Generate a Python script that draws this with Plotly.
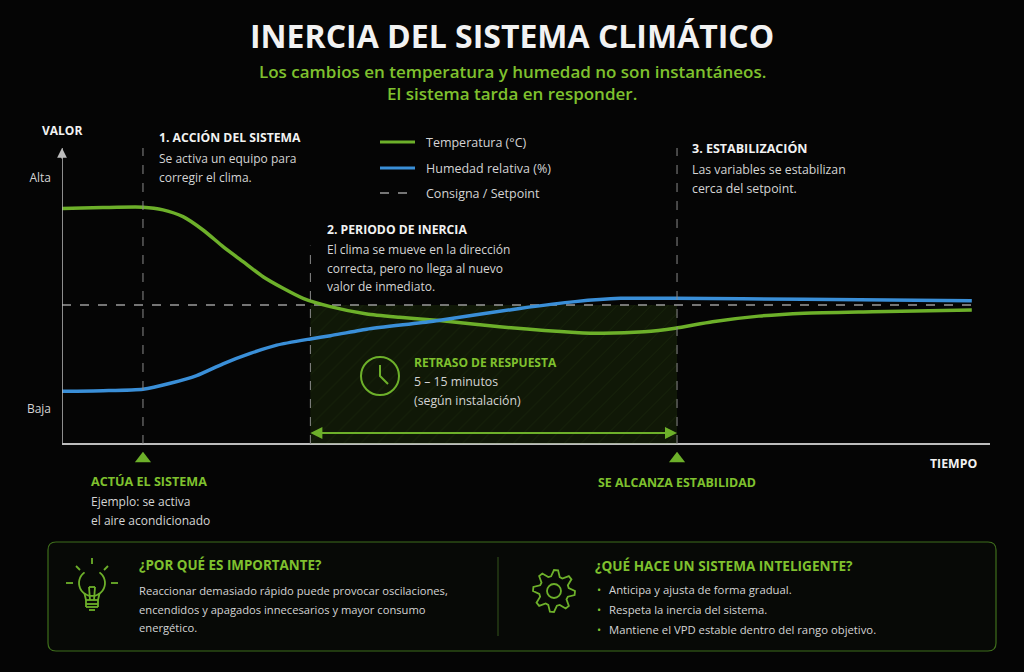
import numpy as np
import plotly.graph_objects as go

W, H = 1024, 672

# curves (time 0-100, value 0-10)
t_temp = [0, 4.5, 8.9, 11.1, 13.3, 15.5, 17.7, 19.9, 22.1, 24.3, 26.5, 29.5, 33.5, 37.1,
          41.5, 48.1, 56.4, 59.5, 64.0, 67.4, 71.5, 76.6, 81.6, 89.1, 100]
temperatura = [7.96, 7.99, 8.0, 7.91, 7.68, 7.23, 6.67, 6.16, 5.65, 5.26, 4.92, 4.64, 4.39, 4.28,
               4.17, 3.96, 3.77, 3.74, 3.79, 3.91, 4.13, 4.32, 4.42, 4.47, 4.53]

t_hum = [0, 4.5, 8.9, 11.9, 14.8, 17.7, 20.7, 23.6, 27.3, 29.5, 33.5, 40.8, 50.3, 56.4, 61.4,
         67.4, 81.6, 100]
humedad = [1.78, 1.80, 1.85, 2.05, 2.31, 2.71, 3.06, 3.34, 3.55, 3.66, 3.88, 4.15, 4.58, 4.81, 4.92,
           4.92, 4.89, 4.84]

setpoint = 4.70
t_setpoint = [0, 100]

# phase markers on the time axis
t_accion = 8.9
t_inercia = 27.3
t_estable = 67.6

y_ticks = [1.18, 9.0]
y_labels = ["Baja", "Alta"]

GREEN = "#6db02a"
GREEN_TXT = "#7fc12e"
BLUE = "#3a8fd8"
GREY = "#9a9a9a"
WHITE = "#f2f2f2"
BODY = "#d4d4d4"
AXIS = "#bdbdbd"
FONT = "Open Sans"

def X(px):
    return px / W

def Y(py):
    return 1 - py / H

fig = go.Figure()

# hatched delay region
fig.add_trace(go.Scatter(
    x=[t_inercia, t_estable, t_estable, t_inercia, t_inercia],
    y=[0, 0, setpoint, setpoint, 0],
    fill="toself", mode="lines", line=dict(width=0),
    fillcolor="rgba(70,120,20,0.18)",
    fillpattern=dict(shape="/", fgcolor="rgba(120,180,50,0.14)",
                     bgcolor="rgba(70,120,20,0.17)", size=12, solidity=0.08),
    hoverinfo="skip", showlegend=False))

fig.add_trace(go.Scatter(x=t_setpoint, y=[setpoint, setpoint], mode="lines",
                         line=dict(color=GREY, width=1.5, dash="dash"),
                         name="Consigna / Setpoint", showlegend=False))
fig.add_trace(go.Scatter(x=t_temp, y=temperatura, mode="lines",
                         line=dict(color=GREEN, width=3.5, shape="spline", smoothing=0.6),
                         name="Temperatura (°C)", showlegend=False))
fig.add_trace(go.Scatter(x=t_hum, y=humedad, mode="lines",
                         line=dict(color=BLUE, width=3.5, shape="spline", smoothing=0.6),
                         name="Humedad relativa (%)", showlegend=False))

# triangles under the axis
fig.add_trace(go.Scatter(x=[t_accion, t_estable], y=[-0.5, -0.5], mode="markers",
                         marker=dict(symbol="triangle-up", size=14, color=GREEN),
                         showlegend=False, hoverinfo="skip"))

shapes = []
# value axis line
shapes.append(dict(type="line", xref="x", yref="y", x0=0, x1=0, y0=0, y1=10,
                   line=dict(color=AXIS, width=1.5)))
# vertical dashed phase lines
for tx, top in [(t_accion, 10.5), (t_inercia, 6.7), (t_estable, 10.4)]:
    shapes.append(dict(type="line", xref="x", yref="y", x0=tx, x1=tx, y0=0, y1=top,
                       line=dict(color="#8a8a8a", width=1, dash="dash")))

# double arrow for the delay
shapes.append(dict(type="line", xref="x", yref="y", x0=t_inercia + 0.5, x1=t_estable - 0.5,
                   y0=0.37, y1=0.37, line=dict(color=GREEN, width=2)))

annotations = []
for tip, tail in [(t_inercia, t_inercia + 3), (t_estable, t_estable - 3)]:
    annotations.append(dict(x=tip, y=0.37, ax=tail, ay=0.37, xref="x", yref="y",
                            axref="x", ayref="y", text="", showarrow=True,
                            arrowhead=2, arrowsize=1.2, arrowwidth=2, arrowcolor=GREEN))

# axis arrow heads
annotations.append(dict(x=102.3, y=0, ax=-12, ay=0, xref="x", yref="y", text="",
                        showarrow=True, arrowhead=2, arrowsize=1.3, arrowwidth=1.5,
                        arrowcolor=AXIS))
annotations.append(dict(x=0, y=10.0, ax=0, ay=12, xref="x", yref="y", text="",
                        showarrow=True, arrowhead=2, arrowsize=1.3, arrowwidth=1.5,
                        arrowcolor=AXIS))


def txt(px, py, s, size=12, color=BODY, weight="normal", anchor="left"):
    annotations.append(dict(x=X(px), y=Y(py), xref="paper", yref="paper", text=s,
                            showarrow=False, xanchor=anchor, yanchor="middle",
                            font=dict(family=FONT, size=size, color=color, weight=weight)))


# title
txt(512, 35, "INERCIA DEL SISTEMA CLIMÁTICO", 32, WHITE, "bold", "center")
txt(512, 72, "Los cambios en temperatura y humedad no son instantáneos.", 17, GREEN_TXT, 600, "center")
txt(512, 94, "El sistema tarda en responder.", 17, GREEN_TXT, 600, "center")

# axis labels
txt(62, 130, "VALOR", 12, WHITE, "bold", "center")
txt(953, 463, "TIEMPO", 12.3, WHITE, "bold", "center")

# phase texts
txt(157, 138, "1. ACCIÓN DEL SISTEMA", 12.2, WHITE, "bold")
txt(157, 158, "Se activa un equipo para", 12)
txt(157, 177, "corregir el clima.", 12)

txt(325, 229, "2. PERIODO DE INERCIA", 12.2, WHITE, "bold")
txt(325, 249, "El clima se mueve en la dirección", 12)
txt(325, 268, "correcta, pero no llega al nuevo", 12)
txt(325, 286, "valor de inmediato.", 12)

txt(690, 148, "3. ESTABILIZACIÓN", 12.5, WHITE, "bold")
txt(690, 169, "Las variables se estabilizan", 12.3)
txt(690, 188, "cerca del setpoint.", 12.3)

# legend (manual)
leg = [("Temperatura (°C)", GREEN, "solid", 142),
       ("Humedad relativa (%)", BLUE, "solid", 168),
       ("Consigna / Setpoint", GREY, "dash", 193)]
for name, col, dash, py in leg:
    shapes.append(dict(type="line", xref="paper", yref="paper", x0=X(380), x1=X(415),
                       y0=Y(py), y1=Y(py),
                       line=dict(color=col, width=3 if dash == "solid" else 1.5, dash=dash)))
    txt(424, py, name, 12.5)

# delay block
txt(412, 362, "RETRASO DE RESPUESTA", 12, GREEN_TXT, "bold")
txt(412, 381, "5 – 15 minutos", 12.3)
txt(412, 400, "(según instalación)", 12.3)
cx, cy, r = 380, 376, 19
shapes.append(dict(type="circle", xref="paper", yref="paper", x0=X(cx - r), x1=X(cx + r),
                   y0=Y(cy + r), y1=Y(cy - r), line=dict(color=GREEN, width=2)))
shapes.append(dict(type="path", xref="paper", yref="paper",
                   path=f"M {X(cx)},{Y(cy - 11)} L {X(cx)},{Y(cy)} L {X(cx + 8)},{Y(cy + 8)}",
                   line=dict(color=GREEN, width=2)))

# labels under the axis
txt(89, 481, "ACTÚA EL SISTEMA", 12.6, GREEN_TXT, "bold")
txt(89, 501, "Ejemplo: se activa", 12)
txt(89, 520, "el aire acondicionado", 12)
txt(677, 482, "SE ALCANZA ESTABILIDAD", 12.4, GREEN_TXT, "bold", "center")

# bottom box
shapes.append(dict(type="path", xref="paper", yref="paper", line=dict(color="#3f6e1c", width=1.2),
                   fillcolor="rgba(8,10,7,0.9)",
                   path=(f"M {X(56)},{Y(542)} L {X(988)},{Y(542)} Q {X(996)},{Y(542)} {X(996)},{Y(550)} "
                         f"L {X(996)},{Y(643)} Q {X(996)},{Y(651)} {X(988)},{Y(651)} "
                         f"L {X(56)},{Y(651)} Q {X(48)},{Y(651)} {X(48)},{Y(643)} "
                         f"L {X(48)},{Y(550)} Q {X(48)},{Y(542)} {X(56)},{Y(542)} Z")))
shapes.append(dict(type="line", xref="paper", yref="paper", x0=X(498), x1=X(498),
                   y0=Y(557), y1=Y(636), line=dict(color="#35551a", width=1)))

txt(137, 565, "¿POR QUÉ ES IMPORTANTE?", 13.4, GREEN_TXT, "bold")
txt(137, 590, "Reaccionar demasiado rápido puede provocar oscilaciones,", 11.2)
txt(137, 609, "encendidos y apagados innecesarios y mayor consumo", 11.2)
txt(137, 627, "energético.", 11.2)

txt(593, 565, "¿QUÉ HACE UN SISTEMA INTELIGENTE?", 13.6, GREEN_TXT, "bold")
for py, s in [(589, "Anticipa y ajusta de forma gradual."),
              (609, "Respeta la inercia del sistema."),
              (629, "Mantiene el VPD estable dentro del rango objetivo.")]:
    txt(595, py, "•", 11, GREEN_TXT)
    txt(607, py, s, 11.3)

# lightbulb icon
bx, by, br = 92, 583, 13
ang = np.linspace(np.radians(125), np.radians(415), 30)
pts = [(bx + br * np.cos(a), by - br * np.sin(a)) for a in ang]
p = "M " + " L ".join(f"{X(u)},{Y(v)}" for u, v in pts)
shapes.append(dict(type="path", xref="paper", yref="paper", path=p, line=dict(color=GREEN, width=1.8)))
for (x0, y0, x1, y1) in [(bx - 7.5, by + 10.5, bx - 6, by + 17), (bx + 7.5, by + 10.5, bx + 6, by + 17),
                         (bx - 6, by + 17, bx + 6, by + 17), (bx - 6, by + 21, bx + 6, by + 21),
                         (bx - 6, by + 17, bx - 6, by + 24), (bx + 6, by + 17, bx + 6, by + 24),
                         (bx - 6, by + 24, bx + 6, by + 24), (bx - 3, by + 27, bx + 3, by + 27),
                         (bx - 2, by + 17, bx - 3, by + 4), (bx + 2, by + 17, bx + 3, by + 4),
                         (bx - 3, by + 4, bx + 3, by + 4),
                         (bx, by - 25, bx, by - 19), (bx - 16, by - 17, bx - 12, by - 13),
                         (bx + 16, by - 17, bx + 12, by - 13), (bx - 26, by, bx - 19, by),
                         (bx + 19, by, bx + 26, by)]:
    shapes.append(dict(type="line", xref="paper", yref="paper", x0=X(x0), y0=Y(y0),
                       x1=X(x1), y1=Y(y1), line=dict(color=GREEN, width=1.8)))

# gear icon
gx, gy = 554, 591
n_teeth = 8
angs = np.linspace(0, 2 * np.pi, n_teeth * 4, endpoint=False) + np.pi / 8
gp = []
for k in range(n_teeth * 4):
    rad = 21 if k % 4 in (1, 2) else 15
    gp.append((gx + rad * np.cos(angs[k]), gy - rad * np.sin(angs[k])))
p = "M " + " L ".join(f"{X(u)},{Y(v)}" for u, v in gp) + " Z"
shapes.append(dict(type="path", xref="paper", yref="paper", path=p, line=dict(color=GREEN, width=1.8)))
shapes.append(dict(type="circle", xref="paper", yref="paper", x0=X(gx - 7), x1=X(gx + 7),
                   y0=Y(gy + 7), y1=Y(gy - 7), line=dict(color=GREEN, width=1.8)))

# y range extends below zero so the triangles under the time axis are drawn
y_lo = -0.8
px_per_unit = (444 - 148) / 10

fig.update_layout(
    width=W, height=H,
    margin=dict(l=0, r=0, t=0, b=0),
    paper_bgcolor="#050505",
    plot_bgcolor="rgba(0,0,0,0)",
    showlegend=False,
    font=dict(family=FONT, color=BODY),
    shapes=shapes,
    annotations=annotations,
    xaxis=dict(domain=[X(62), X(990)], range=[0, 102], showgrid=False, zeroline=False,
               showticklabels=False, showline=False, fixedrange=True),
    yaxis=dict(domain=[Y(444 - y_lo * px_per_unit), Y(148)], range=[y_lo, 10], showgrid=False,
               zeroline=True, zerolinecolor=AXIS, zerolinewidth=1.5, showline=False,
               tickvals=y_ticks, ticktext=y_labels, ticks="", ticklabelstandoff=10,
               tickfont=dict(family=FONT, size=12, color=BODY), fixedrange=True),
)

fig.write_html("out.html", config={"displayModeBar": False},
               post_script="document.body.style.margin='0';document.body.style.overflow='hidden';")
